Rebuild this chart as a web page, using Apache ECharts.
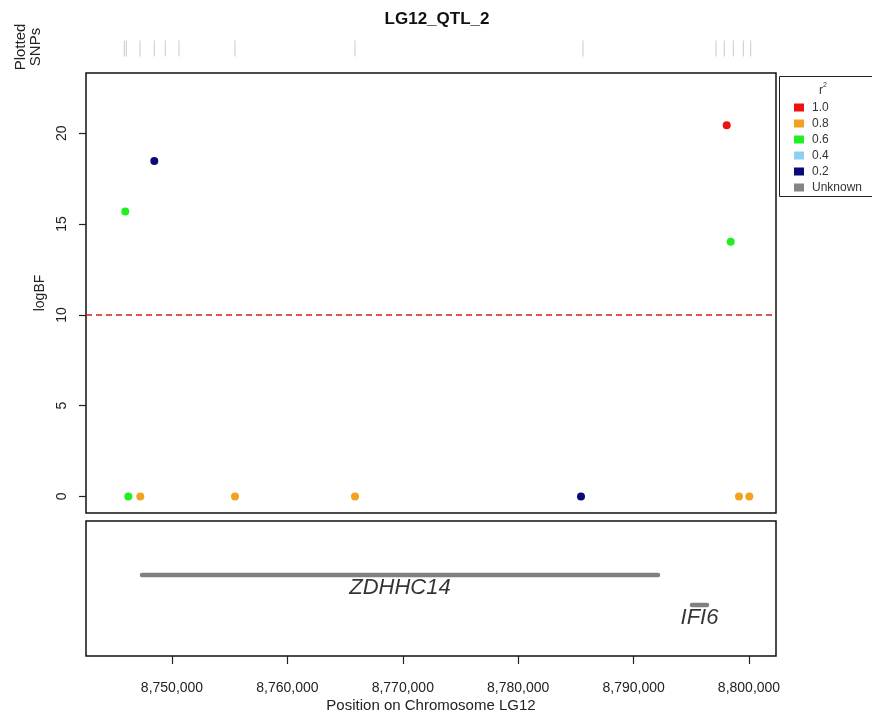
<!DOCTYPE html>
<html>
<head>
<meta charset="utf-8">
<style>
html,body{margin:0;padding:0;background:#fff;}
#chart{width:872px;height:716px;}
</style>
<script src="https://cdn.jsdelivr.net/npm/echarts@6/dist/echarts.min.js"></script>
</head>
<body>
<div id="chart"></div>
<script>
// ---- data ----
const chartTitle = 'LG12_QTL_2';
const xMin = 8742548;
const xMax = 8802340;
const xTickValues = [8750000, 8760000, 8770000, 8780000, 8790000, 8800000];
const yMin = -0.91;
const yMax = 23.32;
const yTickValues = [0, 5, 10, 15, 20];
const threshold = 10;

const r2Classes = ['1.0', '0.8', '0.6', '0.4', '0.2', 'Unknown'];
const r2Colors = ['#EE1111', '#F2A21E', '#22EE22', '#8ECFF5', '#0A0A78', '#858585'];

const snpsR2_10 = [[8798068, 20.44]];
const snpsR2_08 = [[8747253, 0], [8755459, 0], [8765858, 0], [8799133, 0], [8800026, 0]];
const snpsR2_06 = [[8745953, 15.69], [8746213, 0], [8798414, 14.03]];
const snpsR2_04 = [];
const snpsR2_02 = [[8748466, 18.47], [8785442, 0]];
const snpsUnknown = [];

const plottedSnpPositions = [8745867, 8746040, 8747227, 8748466, 8749419, 8750607,
  8755459, 8765858, 8785615, 8797140, 8797860, 8798640, 8799506, 8800147];

const geneNames = ['ZDHHC14', 'IFI6'];
const geneStarts = [8747400, 8795061];
const geneEnds = [8792114, 8796360];
const geneRows = [1.8, 2.8];

// ---- chart ----
const FONT = 'Liberation Sans, Arial, sans-serif';
const chart = echarts.init(document.getElementById('chart'));
const groups = [snpsR2_10, snpsR2_08, snpsR2_06, snpsR2_04, snpsR2_02, snpsUnknown];

const series = [];
r2Classes.forEach((name, i) => {
  series.push({
    name: name,
    type: 'scatter',
    xAxisIndex: 0, yAxisIndex: 0,
    data: groups[i],
    symbol: 'circle',
    symbolSize: 8,
    itemStyle: { color: r2Colors[i], opacity: 1 },
    silent: true,
    z: 5
  });
});
series.push({
  name: 'threshold',
  type: 'line',
  xAxisIndex: 0, yAxisIndex: 0,
  data: [],
  markLine: {
    silent: true,
    symbol: ['none', 'none'],
    label: { show: false },
    lineStyle: { color: '#D02020', type: [6, 4], width: 1.5 },
    data: [{ yAxis: threshold }]
  }
});
geneNames.forEach((g, i) => {
  series.push({
    name: 'gene_' + g,
    type: 'line',
    xAxisIndex: 1, yAxisIndex: 1,
    data: [[geneStarts[i], geneRows[i]], [geneEnds[i], geneRows[i]]],
    symbol: 'none',
    lineStyle: { color: '#808080', width: 4.5, cap: 'round' },
    silent: true
  });
});
series.push({
  name: 'geneLabels',
  type: 'scatter',
  xAxisIndex: 1, yAxisIndex: 1,
  data: geneNames.map((g, i) => [(geneStarts[i] + geneEnds[i]) / 2, geneRows[i], g]),
  symbolSize: 0,
  silent: true,
  label: {
    show: true,
    position: 'bottom',
    distance: 2,
    formatter: p => p.value[2],
    fontFamily: FONT,
    fontStyle: 'italic',
    fontSize: 22,
    color: '#000'
  }
});
series.push({
  name: 'plottedSnps',
  type: 'scatter',
  xAxisIndex: 2, yAxisIndex: 2,
  data: plottedSnpPositions.map(p => [p, 0.5]),
  symbol: 'rect',
  symbolSize: [1, 16],
  itemStyle: { color: '#BDBDBD' },
  silent: true
});

const hiddenX = (gi) => ({
  type: 'value', gridIndex: gi, min: xMin, max: xMax,
  axisLine: { show: false, onZero: false }, axisTick: { show: false },
  axisLabel: { show: false }, splitLine: { show: false }
});

chart.setOption({
  animation: false,
  backgroundColor: '#fff',
  title: {
    text: chartTitle,
    left: 432, top: 6, textAlign: 'center',
    textStyle: { fontFamily: FONT, fontSize: 17, fontWeight: 'bold', color: '#111' }
  },
  legend: {
    data: r2Classes,
    orient: 'vertical',
    left: 789, top: 96,
    icon: 'rect',
    itemWidth: 10, itemHeight: 8,
    itemGap: 3,
    selectedMode: false,
    textStyle: { fontFamily: FONT, fontSize: 12, color: '#333', lineHeight: 13, padding: [0, 0, 0, 3] }
  },
  graphic: [
    { type: 'rect', shape: { x: 779.5, y: 76.5, width: 100, height: 120 },
      style: { fill: 'none', stroke: '#222', lineWidth: 1 }, silent: true },
    { type: 'text', x: 823, y: 82,
      style: { text: '{b|r}{s|2}', rich: {
        b: { fontFamily: FONT, fontSize: 12, fill: '#333', verticalAlign: 'bottom' },
        s: { fontFamily: FONT, fontSize: 7, fill: '#333', verticalAlign: 'top', padding: [0, 0, 8, 0] }
      }, align: 'center' }, silent: true },
    { type: 'text', x: 13, y: 47, rotation: Math.PI / 2,
      style: { text: 'Plotted\nSNPs', fontFamily: FONT, fontSize: 15, fill: '#222',
        align: 'center', verticalAlign: 'top', lineHeight: 15 }, silent: true }
  ],
  grid: [
    { left: 86, top: 73, width: 690, height: 440, show: true, borderColor: '#111', borderWidth: 1.5, backgroundColor: 'transparent' },
    { left: 86, top: 521, width: 690, height: 135, show: true, borderColor: '#111', borderWidth: 1.5, backgroundColor: 'transparent' },
    { left: 86, top: 40, width: 690, height: 17, show: false }
  ],
  xAxis: [
    hiddenX(0),
    {
      type: 'value', gridIndex: 1, min: xMin, max: xMax, position: 'bottom',
      axisLine: { show: false, onZero: false },
      axisTick: { show: true, customValues: xTickValues, length: 8, inside: false,
        lineStyle: { color: '#222', width: 1.2 } },
      axisLabel: { show: true, customValues: xTickValues, margin: 25,
        fontFamily: FONT, fontSize: 14, color: '#222',
        formatter: v => Math.round(v).toLocaleString('en-US') },
      splitLine: { show: false },
      name: 'Position on Chromosome LG12',
      nameLocation: 'middle', nameGap: 42,
      nameTextStyle: { fontFamily: FONT, fontSize: 15, color: '#222' }
    },
    hiddenX(2)
  ],
  yAxis: [
    {
      type: 'value', gridIndex: 0, min: yMin, max: yMax,
      axisLine: { show: false },
      axisTick: { show: true, customValues: yTickValues, length: 7, inside: false,
        lineStyle: { color: '#222', width: 1.2 } },
      axisLabel: { show: true, customValues: yTickValues, rotate: 90, margin: 17,
        fontFamily: FONT, fontSize: 14, color: '#222' },
      splitLine: { show: false },
      name: 'logBF', nameLocation: 'middle', nameGap: 39, nameRotate: 90,
      nameTextStyle: { fontFamily: FONT, fontSize: 14, color: '#222' }
    },
    { type: 'value', gridIndex: 1, min: 0, max: 4.5, inverse: true, show: false },
    { type: 'value', gridIndex: 2, min: 0, max: 1, show: false }
  ],
  series: series
});
</script>
</body>
</html>
